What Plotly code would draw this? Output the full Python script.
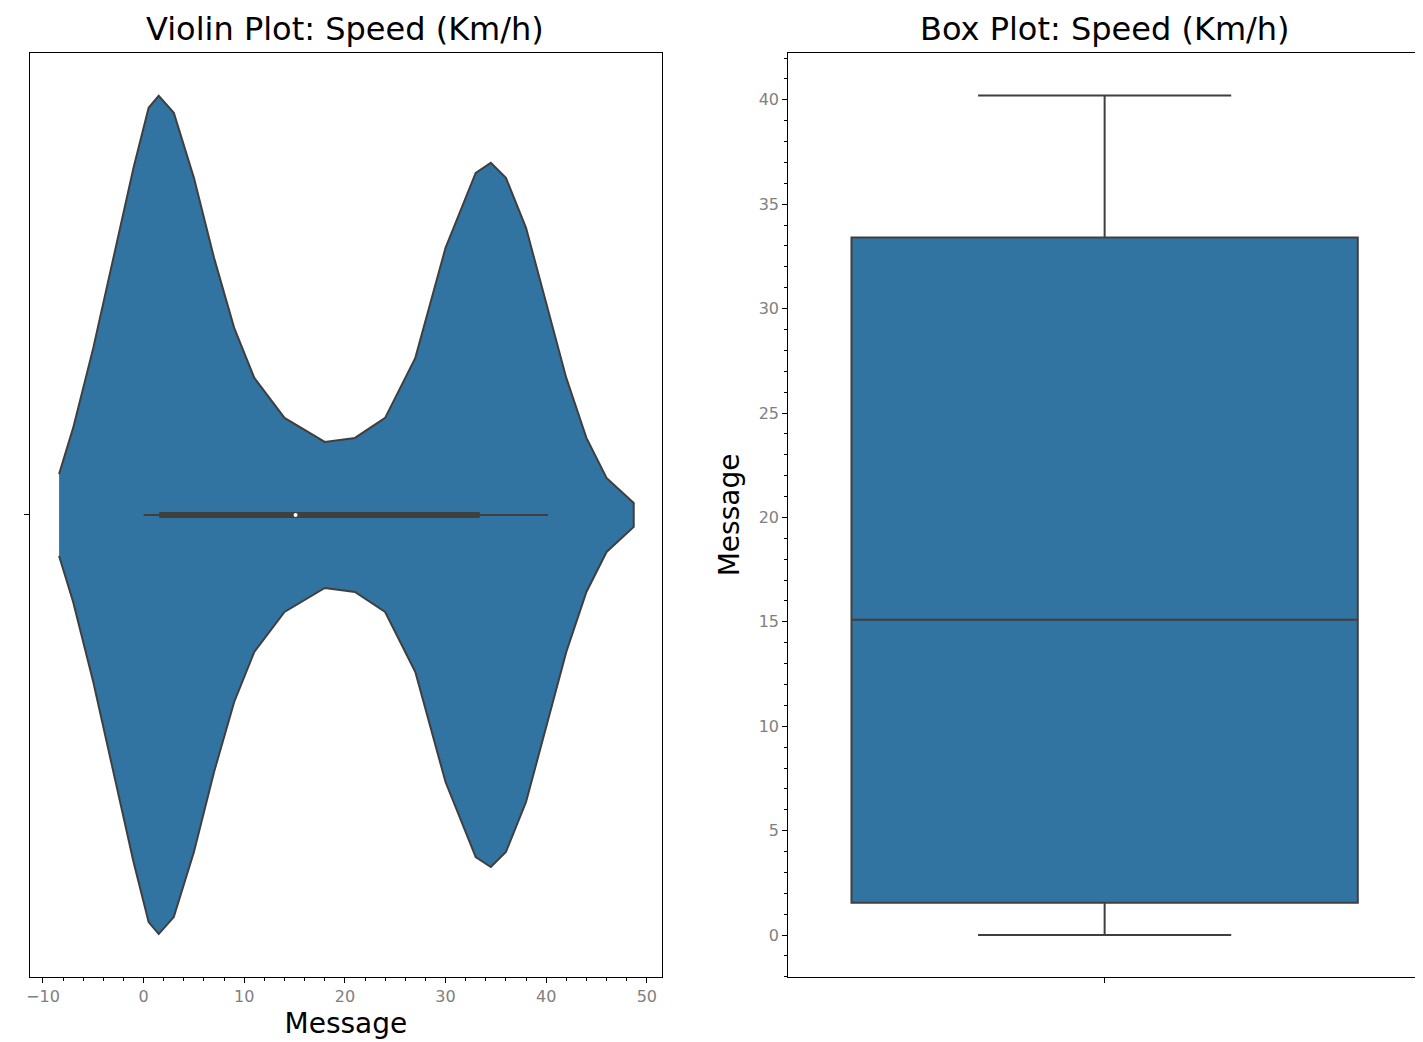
import plotly.graph_objects as go

# violin outline: speed value and half-width of the density
speed_pts = [-8.4, -7, -5, -3, -1, 0.5, 1.5, 3, 5, 7, 9, 11, 14, 18, 21, 24, 27, 30, 33, 34.5, 36, 38, 40, 42, 44, 46, 48.7]
half_width = [41, 87, 167, 257, 347, 407, 419, 402, 337, 257, 187, 137, 97, 73, 77, 97, 157, 267, 342, 352, 337, 287, 212, 137, 77, 37, 12]

# box statistics
box_min = 0.0
box_q1 = 1.55
box_median = 15.1
box_q3 = 33.4
box_max = 40.2

fill = "#3274a1"
edge = "#3f3f3f"

fig = go.Figure()

xs = speed_pts + speed_pts[::-1]
ys = half_width + [-w for w in half_width[::-1]]
fig.add_trace(go.Scatter(x=xs, y=ys, fill="toself", fillcolor=fill, mode="lines",
                         line=dict(color=edge, width=2), xaxis="x", yaxis="y", showlegend=False))
# inner box of the violin
fig.add_trace(go.Scatter(x=[box_min, box_max], y=[0, 0], mode="lines",
                         line=dict(color=edge, width=2), xaxis="x", yaxis="y", showlegend=False))
fig.add_trace(go.Scatter(x=[box_q1, box_q3], y=[0, 0], mode="lines",
                         line=dict(color=edge, width=6), xaxis="x", yaxis="y", showlegend=False))
fig.add_trace(go.Scatter(x=[box_median], y=[0], mode="markers",
                         marker=dict(color="white", size=4), xaxis="x", yaxis="y", showlegend=False))

fig.add_trace(go.Box(x=[0], q1=[box_q1], median=[box_median], q3=[box_q3],
                     lowerfence=[box_min], upperfence=[box_max],
                     fillcolor=fill, line=dict(color=edge, width=2), width=0.8,
                     whiskerwidth=0.5, xaxis="x2", yaxis="y2", showlegend=False))

ax = dict(showline=True, mirror=True, linecolor="black", linewidth=1, showgrid=False,
          zeroline=False, ticks="outside", tickcolor="black",
          tickfont=dict(size=16, color="gray"))

fig.update_layout(
    width=1423, height=1042, plot_bgcolor="white", paper_bgcolor="white",
    margin=dict(l=0, r=0, t=0, b=0),
    font=dict(family="DejaVu Sans", color="black"),
    xaxis=dict(ax, domain=[0.0126, 0.458], range=[-11.3, 51.5], tickvals=[-10, 0, 10, 20, 30, 40, 50],
               ticktext=["\u221210", "0", "10", "20", "30", "40", "50"],
               minor=dict(dtick=2, ticks="outside", ticklen=3, tickcolor="black"),
               title=dict(text="Message", font=dict(size=28), standoff=8)),
    yaxis=dict(ax, domain=[0.070, 0.957], range=[-462, 462], tickvals=[0], showticklabels=False),
    xaxis2=dict(ax, domain=[0.547, 0.993], range=[-0.5, 0.5], tickvals=[0], showticklabels=False),
    yaxis2=dict(ax, domain=[0.070, 0.957], range=[-2.01, 42.25], anchor="x2", dtick=5,
                minor=dict(dtick=1, ticks="outside", ticklen=3, tickcolor="black"),
                title=dict(text="Message", font=dict(size=28), standoff=10)),
    annotations=[
        dict(text="Violin Plot: Speed (Km/h)", x=0.235, y=0.96, xref="paper", yref="paper",
             xanchor="center", yanchor="bottom", showarrow=False, font=dict(size=32)),
        dict(text="Box Plot: Speed (Km/h)", x=0.77, y=0.96, xref="paper", yref="paper",
             xanchor="center", yanchor="bottom", showarrow=False, font=dict(size=32)),
    ],
)

fig.write_html("out.html")
